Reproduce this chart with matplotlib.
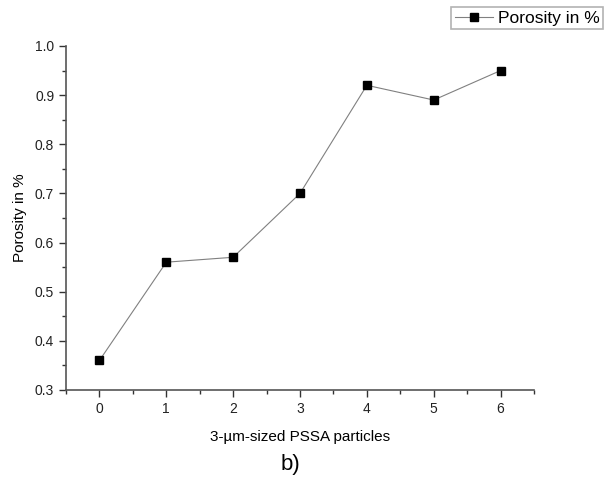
import matplotlib
matplotlib.use("Agg")
import matplotlib.pyplot as plt
from matplotlib.ticker import MultipleLocator

particles = [0, 1, 2, 3, 4, 5, 6]
porosity = [0.36, 0.56, 0.57, 0.70, 0.92, 0.89, 0.95]

plt.rcParams["font.family"] = ["Liberation Sans", "DejaVu Sans"]

fig = plt.figure(figsize=(6.08, 4.82), dpi=100)
ax = fig.add_axes([0.1086, 0.191, 0.7697, 0.7136])

line, = ax.plot(particles, porosity, color="#808080", lw=0.8,
                marker="s", ms=6, mfc="black", mec="black", label="Porosity in %")

ax.set_xlim(-0.5, 6.5)
ax.set_ylim(0.3, 1.0)
ax.xaxis.set_major_locator(MultipleLocator(1))
ax.xaxis.set_minor_locator(MultipleLocator(0.5))
ax.yaxis.set_major_locator(MultipleLocator(0.1))
ax.yaxis.set_minor_locator(MultipleLocator(0.05))
ax.tick_params(which="major", direction="out", length=5, width=1, labelsize=10, color="#333333",
               labelcolor="#222222")
ax.tick_params(which="minor", direction="out", length=3, width=1, color="#333333")
for side in ("top", "right"):
    ax.spines[side].set_visible(False)
for side in ("left", "bottom"):
    ax.spines[side].set_color("#555555")
    ax.spines[side].set_linewidth(1.2)

ax.set_xlabel("3-\u00b5m-sized PSSA particles", fontsize=11, labelpad=10)
ax.set_ylabel("Porosity in %", fontsize=11, labelpad=6)

leg = fig.legend(handles=[line], loc="upper left", bbox_to_anchor=(0.742, 0.985),
                 fontsize=12.5, frameon=True, fancybox=False, borderpad=0.2,
                 handlelength=2.2, handletextpad=0.3, borderaxespad=0)
leg.get_frame().set_edgecolor("#a0a0a0")
leg.get_frame().set_linewidth(1.2)

fig.text(0.478, 0.037, "b)", fontsize=16, ha="center", va="center")

fig.savefig("out.png", dpi=100)
